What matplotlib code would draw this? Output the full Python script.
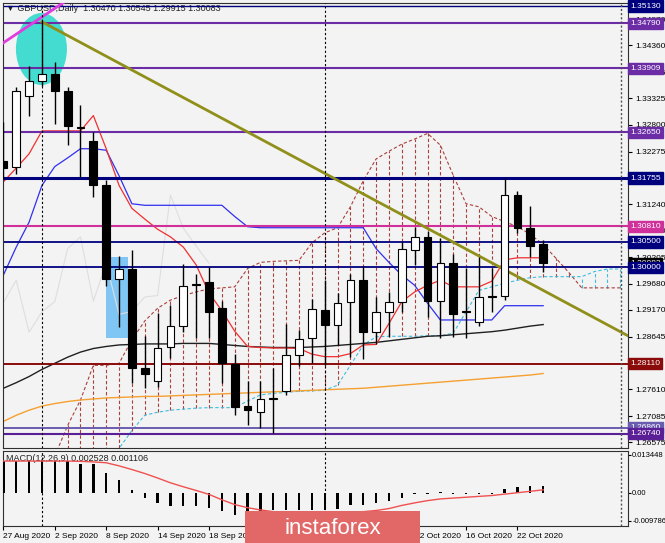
import numpy as np
import matplotlib.pyplot as plt
from matplotlib.patches import Ellipse, Rectangle
import matplotlib.transforms as mtransforms

plt.rcParams['font.family'] = ['Liberation Sans', 'DejaVu Sans']

# GBPUSD daily bars, 27 Aug 2020 .. 26 Oct 2020 (bar index 0..42)
opens = [1.3208, 1.3197, 1.3336, 1.3366, 1.3380, 1.3347, 1.3273, 1.3248, 1.3161, 1.2977,
         1.2997, 1.2802, 1.2778, 1.2843, 1.2886, 1.2966, 1.2971, 1.2921, 1.2810, 1.2729,
         1.2717, 1.2741, 1.2757, 1.2829, 1.2861, 1.2916, 1.2887, 1.2933, 1.2975, 1.2873,
         1.2913, 1.2933, 1.3035, 1.3060, 1.2934, 1.3008, 1.2912, 1.2893, 1.2943, 1.2944,
         1.3142, 1.3078, 1.30470]
highs = [1.3286, 1.3355, 1.3396, 1.3483, 1.3404, 1.3355, 1.3318, 1.3265, 1.3171, 1.3023,
         1.3034, 1.2865, 1.2910, 1.2926, 1.3006, 1.2988, 1.3000, 1.2935, 1.2830, 1.2777,
         1.2777, 1.2802, 1.2890, 1.2877, 1.2939, 1.2975, 1.2949, 1.2988, 1.3002, 1.2943,
         1.2952, 1.3050, 1.3080, 1.3071, 1.3057, 1.3027, 1.2998, 1.3021, 1.2998, 1.3176,
         1.3151, 1.3121, 1.30545]
lows = [1.3174, 1.3184, 1.3298, 1.3356, 1.3282, 1.3241, 1.3178, 1.3138, 1.2963, 1.2884,
        1.2773, 1.2763, 1.2766, 1.2822, 1.2874, 1.2861, 1.2861, 1.2773, 1.2710, 1.2690,
        1.2686, 1.2676, 1.2750, 1.2806, 1.2812, 1.2808, 1.2848, 1.2825, 1.2820, 1.2849,
        1.2864, 1.2912, 1.3004, 1.2902, 1.2862, 1.2864, 1.2861, 1.2885, 1.2913, 1.2936,
        1.3067, 1.3021, 1.29915]
closes = [1.3196, 1.3347, 1.3365, 1.3380, 1.3347, 1.3277, 1.3275, 1.3161, 1.2977, 1.2997,
          1.2802, 1.2791, 1.2842, 1.2886, 1.2964, 1.2968, 1.2912, 1.2812, 1.2727, 1.2720,
          1.2741, 1.2743, 1.2829, 1.2859, 1.2918, 1.2887, 1.2931, 1.2975, 1.2873, 1.2913,
          1.2933, 1.3037, 1.3060, 1.2934, 1.3008, 1.2908, 1.2914, 1.2942, 1.2945, 1.3142,
          1.3077, 1.3042, 1.30083]

date_labels = ['27 Aug 2020', '2 Sep 2020', '8 Sep 2020', '14 Sep 2020', '18 Sep 2020',
               '24 Sep 2020', '30 Sep 2020', '6 Oct 2020', '12 Oct 2020', '16 Oct 2020',
               '22 Oct 2020']
date_bars = [0, 4, 8, 12, 16, 20, 24, 28, 32, 36, 40]

# Ichimoku lines
tenkan = [1.3168, 1.3195, 1.3223, 1.3268, 1.3268, 1.3268, 1.3268, 1.3298, 1.3233, 1.3161,
          1.3116, 1.3095, 1.3075, 1.3060, 1.3040, 1.3005, 1.2950, 1.2915, 1.2875, 1.2845,
          1.2843, 1.2842, 1.2842, 1.2841, 1.2830, 1.2825, 1.2825, 1.2831, 1.2848, 1.2849,
          1.2890, 1.2933, 1.2952, 1.2965, 1.2975, 1.2962, 1.2962, 1.2962, 1.2973, 1.3015,
          1.3019, 1.3019, 1.3019]
kijun = [1.2985, 1.3040, 1.3089, 1.3161, 1.3198, 1.3215, 1.3233, 1.3233, 1.3230, 1.3180,
         1.3125, 1.3122, 1.3122, 1.3122, 1.3122, 1.3122, 1.3122, 1.3122, 1.3100, 1.3080,
         1.3078, 1.3078, 1.3078, 1.3078, 1.3078, 1.3078, 1.3078, 1.3078, 1.3078, 1.3037,
         1.3010, 1.2985, 1.2965, 1.2930, 1.2897, 1.2897, 1.2897, 1.2897, 1.2897, 1.2925,
         1.2925, 1.2925, 1.2925]
# senkou spans, bars 4..48 (cloud runs ahead of price)
span_a = [1.2590, 1.2600, 1.2610, 1.2620, 1.2630, 1.2645, 1.2680, 1.2710, 1.2716, 1.2720,
          1.2722, 1.2724, 1.2725, 1.2725, 1.2725, 1.2738, 1.2750, 1.2753, 1.2755, 1.2757,
          1.2758, 1.2759, 1.2769, 1.2808, 1.2848, 1.2864, 1.2865, 1.2865, 1.2865, 1.2866,
          1.2866, 1.2871, 1.2913, 1.2955, 1.2962, 1.2969, 1.2975, 1.2980, 1.2982, 1.2982,
          1.2982, 1.2982, 1.2992, 1.2997, 1.2997]
span_b = [1.2630, 1.2690, 1.2740, 1.2808, 1.2808, 1.2812, 1.2858, 1.2895, 1.2920, 1.2936,
          1.2945, 1.2952, 1.2958, 1.2960, 1.2962, 1.2998, 1.3010, 1.3012, 1.3013, 1.3014,
          1.3048, 1.3068, 1.3078, 1.3119, 1.3170, 1.3213, 1.3228, 1.3242, 1.3252, 1.3263,
          1.3240, 1.3181, 1.3125, 1.3119, 1.3100, 1.3090, 1.3080, 1.3065, 1.3045, 1.3018,
          1.2990, 1.2960, 1.2960, 1.2960, 1.2960]

# moving averages
ma_black = [1.2763, 1.2774, 1.2786, 1.2800, 1.2812, 1.2824, 1.2834, 1.2841, 1.2845, 1.2848,
            1.2849, 1.2850, 1.2850, 1.2850, 1.2851, 1.2851, 1.2851, 1.2849, 1.2847, 1.2845,
            1.2844, 1.2843, 1.2843, 1.2843, 1.2844, 1.2845, 1.2847, 1.2849, 1.2851, 1.2853,
            1.2856, 1.2859, 1.2862, 1.2865, 1.2866, 1.2868, 1.2870, 1.2872, 1.2874, 1.2877,
            1.2881, 1.2885, 1.2888]
ma_orange = [1.2698, 1.2710, 1.2720, 1.2728, 1.2733, 1.2737, 1.2740, 1.2742, 1.2744, 1.2745,
             1.2746, 1.2747, 1.2747, 1.2748, 1.2749, 1.2750, 1.2751, 1.2752, 1.2753, 1.2754,
             1.2755, 1.2756, 1.2757, 1.2758, 1.2759, 1.2760, 1.2761, 1.2762, 1.2763, 1.2765,
             1.2767, 1.2769, 1.2771, 1.2773, 1.2775, 1.2777, 1.2779, 1.2781, 1.2783, 1.2785,
             1.2787, 1.2789, 1.2792]

# MACD(12,26,9)
macd_hist = [0.0113, 0.0113, 0.0113, 0.0113, 0.0113, 0.0113, 0.0102, 0.0102, 0.0069, 0.0047,
             0.0011, -0.0019, -0.0035, -0.0046, -0.0046, -0.0046, -0.0052, -0.0062, -0.0077, -0.0068,
             -0.0062, -0.0060, -0.0060, -0.0060, -0.0060, -0.0060, -0.0057, -0.0044, -0.0041, -0.0037,
             -0.0030, -0.0019, -0.0004, -0.0002, 0.0003, -0.0002, -0.0004, -0.0004, -0.0002, 0.0014,
             0.0022, 0.0025, 0.002528]
macd_signal = [0.0113, 0.0113, 0.0113, 0.0113, 0.0113, 0.0113, 0.0112, 0.0110, 0.0107, 0.0096,
               0.0083, 0.0069, 0.0053, 0.0036, 0.0022, 0.0009, -0.0005, -0.0024, -0.0041, -0.0052,
               -0.0060, -0.0066, -0.0068, -0.0070, -0.0070, -0.0070, -0.0070, -0.0068, -0.0066, -0.0062,
               -0.0055, -0.0044, -0.0035, -0.0027, -0.0021, -0.0018, -0.0015, -0.0012, -0.0009, -0.0004,
               0.0001, 0.0006, 0.001106]

# horizontal levels drawn on the chart
levels = [1.35130, 1.34790, 1.33909, 1.32650, 1.31755, 1.30810, 1.30500, 1.30000,
          1.28110, 1.26860, 1.26740]
level_colors = ['#00007f', '#6b2ca6', '#6b2ca6', '#6b2ca6', '#00007f', '#d0309a', '#00007f',
                '#00007f', '#8b0a0a', '#6a5cb0', '#5a1f96']
level_widths = [1.0, 1.5, 1.5, 1.5, 2.2, 1.5, 1.3, 1.3, 1.4, 1.4, 1.5]

price_ticks = [1.34870, 1.34360, 1.33835, 1.33325, 1.32800, 1.32275, 1.31240,
               1.30730, 1.30205, 1.29680, 1.29170, 1.28645, 1.27610, 1.27085, 1.26575]

bg = '#f3f3f3'
W, H = 665, 543
fig = plt.figure(figsize=(W / 100, H / 100), dpi=100, facecolor=bg)
ax = fig.add_axes([3 / W, (H - 448) / H, 625 / W, 445 / H], facecolor=bg)
mx = fig.add_axes([3 / W, (H - 526) / H, 625 / W, 75 / H], facecolor=bg)

x = np.arange(len(closes))
o, h, l, c = map(np.array, (opens, highs, lows, closes))

# drawn objects under the candles
ax.add_patch(Ellipse((2.96, 1.34286), 3.97, 0.01413, fc='#44dcd0', ec='none', zorder=1))
ax.add_patch(Rectangle((7.96, 1.28610), 1.76, 0.01589, fc='#80c6f4', ec='none', zorder=1))

# cloud
xs = np.arange(4, 4 + len(span_a))
sa, sb = np.array(span_a), np.array(span_b)
hatch_cols = ['#a8403c' if b >= a else '#40bde0' for a, b in zip(sa, sb)]
ax.vlines(xs, np.minimum(sa, sb), np.maximum(sa, sb), colors=hatch_cols,
          linestyles=(0, (3, 2)), lw=0.8, zorder=2)
ax.plot(xs, sb, color='#a8403c', ls=(0, (3, 2)), lw=0.8, zorder=2)
ax.plot(xs, sa, color='#40bde0', ls=(0, (3, 2)), lw=0.8, zorder=2)

# chikou span
ax.plot(np.arange(len(closes) - 26), closes[26:], color='#dedede', lw=0.8, zorder=1.8)

ax.plot(x, ma_orange, color='#f5a030', lw=1, zorder=2)
ax.plot(x, ma_black, color='#202020', lw=1, zorder=2)
ax.plot(x, kijun, color='#3030f0', lw=0.9, zorder=2)
ax.plot(x, tenkan, color='#f03030', lw=0.9, zorder=2)

for lv, col, lw in zip(levels, level_colors, level_widths):
    ax.axhline(lv, color=col, lw=lw, zorder=2.5)

# trend lines
ax.plot([3, 50], [1.3482, 1.2847], color='#8f8f1a', lw=2, zorder=2.6)
ax.plot([-1, 6], [1.3424, 1.3542], color='#e03ce0', lw=2, zorder=2.6)

# candles
ax.vlines(x, l, h, color='black', lw=1, zorder=3)
body_lo = np.minimum(o, c)
body_h = np.maximum(np.abs(c - o), 0.00006)
ax.bar(x, body_h, bottom=body_lo, width=0.6,
       color=['white' if cc >= oo else 'black' for oo, cc in zip(o, c)],
       edgecolor='black', lw=0.8, zorder=4)

# separators
for a in (ax, mx):
    for v in (3, 25):
        a.axvline(v, color='black', ls=(0, (2, 2)), lw=0.8, zorder=2.7)
    a.axvline(48.05, color='#505050', ls=(0, (1.5, 1.5)), lw=1, zorder=2.7)

ax.set_xlim(-0.03, 48.6)
ax.set_ylim(1.26458, 1.35189)
ax.set_xticks([])
ax.yaxis.tick_right()
ax.set_yticks(price_ticks)
ax.set_yticklabels(['%.5f' % t for t in price_ticks])
ax.tick_params(axis='y', direction='out', length=3, pad=2, labelsize=6)

blend = mtransforms.blended_transform_factory(ax.transAxes, ax.transData)
ax.text(1.0035, 1.30083, '1.30083', transform=blend, fontsize=6, color='white', va='center',
        ha='left', bbox=dict(boxstyle='square,pad=0.2', fc='black', ec='black'), zorder=5, clip_on=False)
for lv, col in zip(levels, level_colors):
    ax.text(1.0035, lv, '%.5f' % lv, transform=blend, fontsize=6, color='white', va='center',
            ha='left', bbox=dict(boxstyle='square,pad=0.25', fc=col, ec=col), zorder=6, clip_on=False)

ax.text(0.005, 0.987, '\u25bc GBPUSD,Daily  1.30470 1.30545 1.29915 1.30083', transform=ax.transAxes,
        fontsize=6.5, va='center', ha='left', color='#202020', zorder=1.5)

# MACD panel
mx.bar(x, macd_hist, width=0.18, color='black', zorder=3)
mx.plot(x, macd_signal, color='#f05050', lw=1, zorder=4)
mx.set_xlim(-0.03, 48.6)
mx.set_ylim(-0.01168, 0.01486)
mx.yaxis.tick_right()
mx.set_yticks([0.013448, 0.0, -0.009786])
mx.set_yticklabels(['0.013448', '0.00', '-0.009786'])
mx.tick_params(axis='y', direction='out', length=2, pad=1, labelsize=5.5)
mx.set_xticks(date_bars)
mx.set_xticklabels(date_labels, ha='left')
mx.tick_params(axis='x', direction='out', length=3, pad=2, labelsize=6)
mx.text(0.005, 0.9, 'MACD(12,26,9) 0.002528 0.001106', transform=mx.transAxes,
        fontsize=6.5, va='center', ha='left', color='#202020')

for a in (ax, mx):
    for s in a.spines.values():
        s.set_color('#303030')
        s.set_linewidth(0.8)

# watermark
fig.add_artist(Rectangle((245 / W, 0), 175 / W, 32 / H, transform=fig.transFigure,
                         fc='#e26868', ec='none', zorder=10))
fig.text(333 / W, 15 / H, 'instaforex', color='white', fontsize=16, ha='center', va='center',
         zorder=11)

fig.savefig('out.png', dpi=100, facecolor=bg)
